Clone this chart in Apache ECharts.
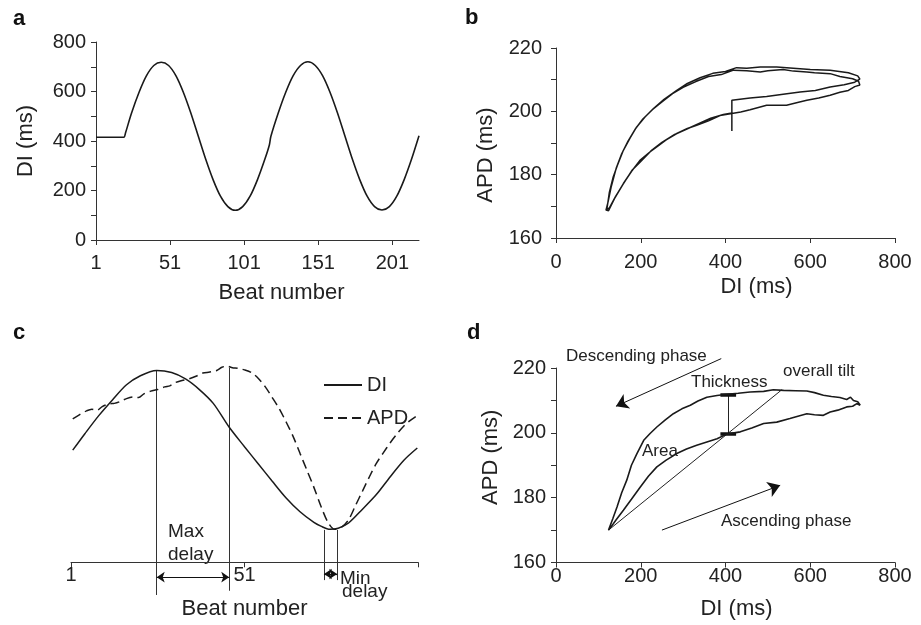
<!DOCTYPE html>
<html>
<head>
<meta charset="utf-8">
<script src="https://cdn.jsdelivr.net/npm/echarts@6.0.0/dist/echarts.min.js"></script>
<style>
  html, body { margin: 0; padding: 0; background: #fff; }
  #chart { width: 921px; height: 625px; }
</style>
</head>
<body>
<div id="chart"></div>
<script>
// panel a: DI against beat number
const aBeat = [1, 5, 10, 15, 19.5, 20, 21, 25, 30, 35, 40, 45, 50, 55, 60, 65, 70, 75, 80, 85, 90, 95, 100, 105, 110, 115, 118,
  119, 124, 129, 134, 139, 144, 149, 154, 159, 164, 169, 174, 179, 184, 189, 194, 199, 204, 209, 214, 219]
const aDI = [415, 415, 415, 415, 415, 415, 434, 513, 596, 663, 705, 718, 705, 663, 596, 513, 420, 327, 244, 177, 135, 120, 135, 177, 244, 327, 384,
  418, 513, 596, 663, 705, 720, 705, 663, 596, 513, 420, 327, 244, 177, 135, 121, 135, 177, 244, 327, 421]

// panel b: restitution loop (APD vs DI), in beat order
const bDI = [415, 415, 458, 497, 536, 576, 612, 647, 680, 705, 717,
  712, 690, 647, 600, 560, 521, 482, 450, 426, 400, 370, 340, 310, 285, 255, 230, 210, 190, 175, 159, 145, 135, 126, 120,
  126, 140, 159, 178, 198, 220, 237, 260, 285, 310, 332, 360, 387, 415, 436, 458, 497, 544, 570, 592, 620, 647, 670, 690, 705, 717,
  714, 700, 670, 647, 610, 592, 560, 536, 500, 482, 450, 419, 390, 360, 330, 300, 275, 250, 228, 205, 188, 170, 155, 142, 130, 123, 118,
  124, 138, 157, 180, 200, 224, 250, 280, 305, 335, 365, 395, 415]
const bAPD = [193.8, 203.5, 204.2, 204.7, 205.4, 206.1, 206.6, 207.7, 208.4, 209.2, 210.2,
  211.2, 212.2, 213, 213.2, 213.6, 214, 214, 213.6, 213.8, 212.6, 212, 210.6, 208.8, 206.6, 203.8, 200.9, 198.2, 195, 191.6, 187.7, 183, 179.3, 174.5, 169,
  169.5, 173, 177.2, 181, 184.5, 187, 188.7, 191, 193, 194.6, 195.6, 197, 198.7, 199.3, 199.8, 200.5, 201.9, 201.9, 202.8, 203.5, 204.2, 205.1, 206, 206.6, 207.8, 208.3,
  209.5, 210.3, 211, 211.9, 212.2, 212.4, 212.7, 213.2, 212.8, 212.4, 212.8, 213, 211.6, 211, 209.4, 207.6, 205.6, 203, 200.6, 197.6, 194.6, 190.6, 186.6, 182, 176, 171.5, 168.8,
  168.6, 172.4, 176.7, 181.5, 184.2, 187.5, 190.2, 192.7, 194.2, 196, 197.8, 199, 199.5]

// panel c: one cycle, DI (solid) and APD (dashed) on a shared scale
const cDIBeat = [1.5, 5, 9, 13, 17, 21, 25.7, 30, 34, 38, 42, 46.6, 51, 55, 59, 63, 67, 71, 73, 75.6, 78, 81, 85, 89, 93, 97, 100.8]
const cDI = [422, 484, 552, 612, 668, 702, 722, 714, 690, 650, 598, 508, 435, 370, 305, 242, 190, 150, 136, 124, 128, 148, 200, 255, 322, 385, 430]
const cAPDBeat = [1.5, 3.5, 5.5, 7, 8.5, 10, 12, 13.5, 15, 17, 19, 20.5, 22, 24, 26, 28, 29.5, 31, 33, 35, 37, 39, 41, 43, 44.5, 46, 47.5, 49,
  51, 53, 55, 57, 59, 61, 63, 65, 67, 69, 71, 73, 75, 77, 79, 81, 83, 85, 87, 89, 91, 93, 95, 97, 99, 100.8]
const cAPD = [540, 556, 570, 576, 572, 586, 596, 598, 604, 616, 622, 620, 634, 644, 650, 660, 664, 676, 684, 690, 700, 712, 716, 722, 734, 738, 732, 730,
  724, 714, 692, 660, 620, 578, 528, 474, 410, 346, 282, 212, 152, 124, 132, 160, 214, 268, 322, 372, 412, 450, 484, 514, 536, 552]
const cXTicks = [1, 51, 101]
const cXLabels = [1, 51]

// panel d: one loop, descending (upper) then ascending (lower)
const dDI = [718, 712, 702, 695, 686, 670, 650, 631, 610, 592, 565, 537, 513, 490, 458, 430, 403, 380, 356, 335, 317, 297, 277, 258, 238, 222, 207, 191, 178, 167, 155, 144, 134, 124,
  130, 142, 159, 178, 199, 218, 238, 260, 285, 308, 332, 356, 380, 403, 435, 462, 490, 521, 552, 575, 592, 610, 631, 647, 665, 686, 700, 710, 718]
const dAPD = [208.5, 209.6, 210, 211, 210.3, 210.9, 211.2, 211.6, 212.4, 212.9, 213, 213.1, 213.3, 212.8, 212.6, 212.2, 211.9, 211.5, 211, 209.8, 208.5, 207.4, 205.9, 204, 201.8, 199.8, 197.7, 193.6, 190, 185.4, 181.5, 177.1, 173.5, 170,
  171, 173.2, 176.1, 179.5, 183.3, 186.6, 189.5, 191.6, 193.6, 195, 196.2, 197.2, 198.2, 199.6, 200.3, 201.5, 202.9, 203.3, 204.4, 205.3, 205.9, 205.6, 205.4, 206.4, 207, 208, 208.2, 209, 208.5]

// tick values
const aXTicks = [1, 51, 101, 151, 201]
const aYTicks = [0, 100, 200, 300, 400, 500, 600, 700, 800]
const aYLabels = [0, 200, 400, 600, 800]
const diTicks = [0, 200, 400, 600, 800]
const apdTicks = [160, 170, 180, 190, 200, 210, 220]
const apdLabels = [160, 180, 200, 220]

// annotation guides (in data units of panels c and d)
const cGuides = [
  [[25.7, 722], [25.7, -123]],
  [[46.6, 732], [46.6, -107]],
  [[73.9, 122], [73.9, -67]],
  [[77.7, 122], [77.7, -67]]
]
const cDelayArrows = [
  [[25.7, -56], [46.6, -56]],
  [[73.9, -44], [77.7, -44]]
]
const dGuides = [
  [[124, 170], [533, 213.3]], // overall tilt
  [[406, 211.9], [406, 199.8]] // thickness
]
const dCaps = [
  [[388, 211.9], [425, 211.9]],
  [[388, 199.8], [425, 199.8]]
]
const dPhaseArrows = [
  [[390, 222.9], [141.5, 208.2]], // descending
  [[250, 170], [529, 183.8]] // ascending
]

const FONT = 'Liberation Sans, Arial, sans-serif'
const INK = '#1a1a1a'
const zip = (xs, ys) => xs.map((x, i) => [x, ys[i]])
const toLines = arr => arr.map(c => ({ coords: c }))

function valueAxis (opt) {
  return Object.assign({
    type: 'value',
    nameLocation: 'middle',
    nameTextStyle: { fontFamily: FONT, fontSize: 22, color: '#222' },
    axisLine: { show: true, onZero: false, lineStyle: { color: '#333', width: 1 } },
    axisTick: { show: true, length: 5, lineStyle: { color: '#333' } },
    axisLabel: { fontFamily: FONT, fontSize: 20, color: '#222' },
    splitLine: { show: false }
  }, opt)
}

const chart = echarts.init(document.getElementById('chart'))

const option = {
  animation: false,
  backgroundColor: '#fff',
  grid: [
    { left: 96, top: 42, width: 323, height: 198 },
    { left: 556, top: 48, width: 339, height: 190 },
    { left: 71, top: 349.7, width: 347, height: 212.6 },
    { left: 556, top: 368, width: 339, height: 194.5 }
  ],
  xAxis: [
    valueAxis({
      gridIndex: 0, min: 1, max: 219, name: 'Beat number', nameGap: 42,
      nameTextStyle: { fontFamily: FONT, fontSize: 22, color: '#222', padding: [0, 0, 0, 48] },
      axisTick: { show: true, length: 5, customValues: aXTicks, lineStyle: { color: '#333' } },
      axisLabel: { fontFamily: FONT, fontSize: 20, color: '#222', margin: 13, customValues: aXTicks }
    }),
    valueAxis({
      gridIndex: 1, min: 0, max: 800, name: 'DI (ms)', nameGap: 38,
      nameTextStyle: { fontFamily: FONT, fontSize: 22, color: '#222', padding: [0, 0, 0, 62] },
      axisTick: { show: true, length: 5, customValues: diTicks, lineStyle: { color: '#333' } },
      axisLabel: { fontFamily: FONT, fontSize: 20, color: '#222', margin: 14, customValues: diTicks }
    }),
    valueAxis({
      gridIndex: 2, min: 1, max: 101, name: 'Beat number', nameGap: 36,
      axisTick: { show: true, length: 5, customValues: cXTicks, lineStyle: { color: '#333' } },
      axisLabel: { fontFamily: FONT, fontSize: 20, color: '#222', margin: 3, customValues: cXLabels }
    }),
    valueAxis({
      gridIndex: 3, min: 0, max: 800, name: 'DI (ms)', nameGap: 35,
      nameTextStyle: { fontFamily: FONT, fontSize: 22, color: '#222', padding: [0, 0, 0, 22] },
      axisTick: { show: true, length: 5, customValues: diTicks, lineStyle: { color: '#333' } },
      axisLabel: { fontFamily: FONT, fontSize: 20, color: '#222', margin: 4, customValues: diTicks }
    })
  ],
  yAxis: [
    valueAxis({
      gridIndex: 0, min: 0, max: 800, name: 'DI (ms)', nameGap: 59,
      axisTick: { show: true, length: 5, customValues: aYTicks, lineStyle: { color: '#333' } },
      axisLabel: { fontFamily: FONT, fontSize: 20, color: '#222', margin: 10, customValues: aYLabels }
    }),
    valueAxis({
      gridIndex: 1, min: 160, max: 220, name: 'APD (ms)', nameGap: 59,
      nameTextStyle: { fontFamily: FONT, fontSize: 22, color: '#222', padding: [0, 24, 0, 0] },
      axisTick: { show: true, length: 5, customValues: apdTicks, lineStyle: { color: '#333' } },
      axisLabel: { fontFamily: FONT, fontSize: 20, color: '#222', margin: 14, customValues: apdLabels }
    }),
    { type: 'value', gridIndex: 2, min: 0, max: 800, show: false },
    valueAxis({
      gridIndex: 3, min: 160, max: 220, name: 'APD (ms)', nameGap: 54,
      nameTextStyle: { fontFamily: FONT, fontSize: 22, color: '#222', padding: [0, 0, 0, 16] },
      axisTick: { show: true, length: 5, customValues: apdTicks, lineStyle: { color: '#333' } },
      axisLabel: { fontFamily: FONT, fontSize: 20, color: '#222', margin: 10, customValues: apdLabels }
    })
  ],
  legend: {
    data: ['DI', 'APD'],
    orient: 'vertical',
    left: 318,
    top: 370,
    itemWidth: 38,
    itemHeight: 14,
    itemGap: 13,
    selectedMode: false,
    itemStyle: { opacity: 0 },
    textStyle: { fontFamily: FONT, fontSize: 20, color: '#222' }
  },
  series: [
    {
      name: 'a', type: 'line', xAxisIndex: 0, yAxisIndex: 0, data: zip(aBeat, aDI),
      symbol: 'none', smooth: 0.3, lineStyle: { color: INK, width: 1.6 }
    },
    {
      name: 'b', type: 'line', xAxisIndex: 1, yAxisIndex: 1, data: zip(bDI, bAPD),
      symbol: 'none', lineStyle: { color: INK, width: 1.5 }
    },
    {
      name: 'DI', type: 'line', xAxisIndex: 2, yAxisIndex: 2, data: zip(cDIBeat, cDI),
      symbol: 'none', smooth: 0.3, itemStyle: { color: INK }, lineStyle: { color: INK, width: 1.5 }
    },
    {
      name: 'APD', type: 'line', xAxisIndex: 2, yAxisIndex: 2, data: zip(cAPDBeat, cAPD),
      symbol: 'none', smooth: 0.3, itemStyle: { color: INK }, lineStyle: { color: INK, width: 1.5, type: [9, 5] }
    },
    {
      name: 'd', type: 'line', xAxisIndex: 3, yAxisIndex: 3, data: zip(dDI, dAPD),
      symbol: 'none', lineStyle: { color: INK, width: 1.6 }
    },
    // annotations
    {
      name: 'cGuides', type: 'lines', coordinateSystem: 'cartesian2d', xAxisIndex: 2, yAxisIndex: 2, clip: false,
      data: toLines(cGuides), symbol: 'none', lineStyle: { color: '#333', width: 1, opacity: 1 }
    },
    {
      name: 'cArrows', type: 'lines', coordinateSystem: 'cartesian2d', xAxisIndex: 2, yAxisIndex: 2, clip: false,
      data: toLines(cDelayArrows), symbol: ['arrow', 'arrow'], symbolSize: 8,
      lineStyle: { color: '#111', width: 1.2, opacity: 1 }
    },
    {
      name: 'dGuides', type: 'lines', coordinateSystem: 'cartesian2d', xAxisIndex: 3, yAxisIndex: 3, clip: false,
      data: toLines(dGuides), symbol: 'none', lineStyle: { color: '#222', width: 1, opacity: 1 }
    },
    {
      name: 'dCaps', type: 'lines', coordinateSystem: 'cartesian2d', xAxisIndex: 3, yAxisIndex: 3, clip: false,
      data: toLines(dCaps), symbol: 'none', lineStyle: { color: '#111', width: 3.5, opacity: 1 }
    },
    {
      name: 'dArrows', type: 'lines', coordinateSystem: 'cartesian2d', xAxisIndex: 3, yAxisIndex: 3, clip: false,
      data: toLines(dPhaseArrows), symbol: ['none', 'arrow'], symbolSize: 12,
      lineStyle: { color: '#111', width: 1, opacity: 1 }
    }
  ],
  graphic: [
    { type: 'text', x: 13, y: 19, style: { text: 'a', font: 'bold 22px ' + FONT, fill: '#111', verticalAlign: 'middle' } },
    { type: 'text', x: 465, y: 18, style: { text: 'b', font: 'bold 22px ' + FONT, fill: '#111', verticalAlign: 'middle' } },
    { type: 'text', x: 13, y: 333, style: { text: 'c', font: 'bold 22px ' + FONT, fill: '#111', verticalAlign: 'middle' } },
    { type: 'text', x: 467, y: 333, style: { text: 'd', font: 'bold 22px ' + FONT, fill: '#111', verticalAlign: 'middle' } },
    { type: 'text', x: 168, y: 532, style: { text: 'Max', font: '19px ' + FONT, fill: '#222', verticalAlign: 'middle' } },
    { type: 'text', x: 168, y: 555, style: { text: 'delay', font: '19px ' + FONT, fill: '#222', verticalAlign: 'middle' } },
    { type: 'text', x: 340, y: 579, style: { text: 'Min', font: '19px ' + FONT, fill: '#222', verticalAlign: 'middle' } },
    { type: 'text', x: 342, y: 592, style: { text: 'delay', font: '19px ' + FONT, fill: '#222', verticalAlign: 'middle' } },
    { type: 'text', x: 566, y: 356, style: { text: 'Descending phase', font: '17px ' + FONT, fill: '#222', verticalAlign: 'middle' } },
    { type: 'text', x: 691, y: 382, style: { text: 'Thickness', font: '17px ' + FONT, fill: '#222', verticalAlign: 'middle' } },
    { type: 'text', x: 783, y: 371, style: { text: 'overall tilt', font: '17px ' + FONT, fill: '#222', verticalAlign: 'middle' } },
    { type: 'text', x: 642, y: 451, style: { text: 'Area', font: '17px ' + FONT, fill: '#222', verticalAlign: 'middle' } },
    { type: 'text', x: 721, y: 521, style: { text: 'Ascending phase', font: '17px ' + FONT, fill: '#222', verticalAlign: 'middle' } }
  ]
}

chart.setOption(option)
</script>
</body>
</html>
